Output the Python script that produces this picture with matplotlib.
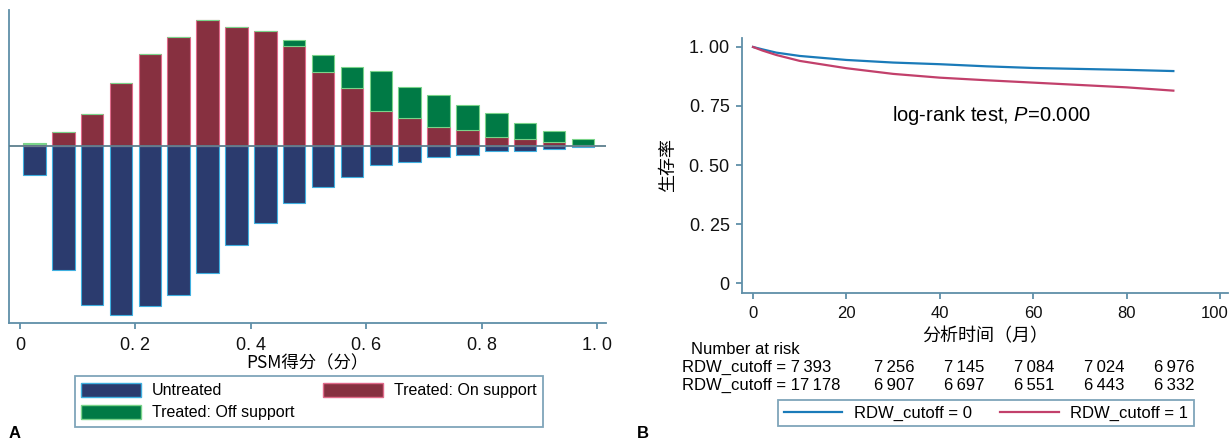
import matplotlib.pyplot as plt
import matplotlib.transforms as mtransforms
import numpy as np
from matplotlib.patches import Patch
from matplotlib.lines import Line2D

# ---- data ----
# propensity score bins (bin centres)
bin_centres = [0.025, 0.075, 0.125, 0.175, 0.225, 0.275, 0.325, 0.375, 0.425, 0.475,
               0.525, 0.575, 0.625, 0.675, 0.725, 0.775, 0.825, 0.875, 0.925, 0.975]
untreated = [0.29, 1.24, 1.59, 1.69, 1.60, 1.49, 1.27, 0.99, 0.77, 0.57,
             0.41, 0.31, 0.19, 0.16, 0.11, 0.09, 0.05, 0.05, 0.03, 0.01]
treated_on = [0.02, 0.14, 0.32, 0.63, 0.92, 1.09, 1.26, 1.19, 1.15, 1.00,
              0.74, 0.58, 0.35, 0.28, 0.19, 0.16, 0.09, 0.07, 0.04, 0.01]
treated_off = [0.01, 0, 0, 0, 0, 0, 0, 0, 0, 0.06,
               0.17, 0.21, 0.40, 0.31, 0.32, 0.25, 0.24, 0.16, 0.11, 0.06]

# survival curves
months = [0, 2, 5, 10, 20, 30, 40, 50, 60, 70, 80, 90]
surv_0 = [1.0, 0.990, 0.976, 0.962, 0.945, 0.934, 0.927, 0.918, 0.911, 0.907, 0.903, 0.898]
surv_1 = [1.0, 0.985, 0.966, 0.941, 0.910, 0.886, 0.870, 0.859, 0.849, 0.839, 0.829, 0.815]

# number at risk
risk_0 = [7393, 7256, 7145, 7084, 7024, 6976]
risk_1 = [17178, 6907, 6697, 6551, 6443, 6332]

psm_ticks = [0, 0.2, 0.4, 0.6, 0.8, 1.0]
psm_ticklabels = ['0', '0. 2', '0. 4', '0. 6', '0. 8', '1. 0']
surv_ticks = [0, 0.25, 0.5, 0.75, 1.0]
surv_ticklabels = ['0', '0. 25', '0. 50', '0. 75', '1. 00']
time_ticks = [0, 20, 40, 60, 80, 100]

# ---- style ----
plt.rcParams['font.family'] = ['Liberation Sans', 'DejaVu Sans']
plt.rcParams['mathtext.fontset'] = 'custom'
plt.rcParams['mathtext.rm'] = 'Liberation Sans'
plt.rcParams['mathtext.it'] = 'Liberation Sans:italic'

axis_col = '#5f8fa8'
navy = '#2b3b6e'
maroon = '#873040'
green = '#007a45'
blue_line = '#1a7bb9'
red_line = '#c2406b'
tick_font = ['Liberation Sans', 'DejaVu Sans']
cjk_font = ['Noto Sans CJK SC', 'DejaVu Sans']

W, H = 1232, 443
fig = plt.figure(figsize=(W / 100, H / 100), dpi=100)


def px_axes(x0, y0, x1, y1):
    # axes from pixel box (top-left origin)
    return fig.add_axes([x0 / W, 1 - y1 / H, (x1 - x0) / W, (y1 - y0) / H])


def style_axes(ax):
    for s in ['top', 'right']:
        ax.spines[s].set_visible(False)
    for s in ['left', 'bottom']:
        ax.spines[s].set_color(axis_col)
        ax.spines[s].set_linewidth(1.3)
    ax.tick_params(colors=axis_col, labelcolor='#111111', direction='out',
                   length=4, width=1.3)


# ---- panel A: propensity score distribution ----
axA = px_axes(9, 10, 606, 323)
style_axes(axA)
bw = 0.039
axA.bar(bin_centres, [-u for u in untreated], width=bw, color=navy,
        edgecolor='#3fb0e0', linewidth=0.8)
axA.bar(bin_centres, treated_on, width=bw, color=maroon,
        edgecolor='#e06a8a', linewidth=0.8)
axA.bar(bin_centres, treated_off, width=bw, bottom=treated_on, color=green,
        edgecolor='#7ad48a', linewidth=0.8)
axA.axhline(0, color='#5d7f8e', linewidth=1.3, zorder=3)
axA.set_xlim(-0.019, 1.015)
axA.set_ylim(-1.77, 1.36)
axA.set_yticks([])
axA.set_xticks(psm_ticks)
axA.set_xticklabels(psm_ticklabels, family=tick_font, fontsize=13)
axA.tick_params(axis='x', pad=6)
axA.set_xlabel('PSM得分（分）', family=cjk_font, fontsize=12.5, labelpad=0)

legA = fig.legend(handles=[Patch(facecolor=navy, edgecolor='#3fb0e0', label='Untreated'),
                           Patch(facecolor=green, edgecolor='#7ad48a', label='Treated: Off support'),
                           Patch(facecolor=maroon, edgecolor='#e06a8a', label='Treated: On support')],
                  ncol=2, loc='center', bbox_to_anchor=(309 / W, 1 - 401.5 / H),
                  fontsize=11.5, handlelength=3.75, handleheight=1.0, handletextpad=0.7,
                  columnspacing=1.8, labelspacing=0.4, fancybox=False,
                  edgecolor=axis_col, borderpad=0.4)
legA.get_frame().set_linewidth(1.3)
fig.text(15 / W, 1 - 433 / H, 'A', fontsize=12, fontweight='bold', ha='center', va='center')

# ---- panel B: survival curves ----
axB = px_axes(742, 38, 1228, 293)
style_axes(axB)
axB.plot(months, surv_0, color=blue_line, linewidth=1.6)
axB.plot(months, surv_1, color=red_line, linewidth=1.6)
axB.set_xlim(-2.36, 101.7)
axB.set_ylim(-0.042, 1.038)
axB.set_xticks(time_ticks)
axB.set_xticklabels([str(t) for t in time_ticks], family=tick_font, fontsize=12)
axB.set_yticks(surv_ticks)
axB.set_yticklabels(surv_ticklabels, family=tick_font, fontsize=13)
axB.tick_params(axis='both', pad=5)
# keep the "100" label inside the canvas
last = axB.get_xticklabels()[-1]
last.set_transform(last.get_transform() + mtransforms.ScaledTranslation(-5 / 100, 0, fig.dpi_scale_trans))
axB.set_xlabel('分析时间（月）', family=cjk_font, fontsize=13, labelpad=5)
axB.set_ylabel('生存率', family=cjk_font, fontsize=13, labelpad=9)
axB.text(0.309, 0.698, 'log-rank test, $P$=0.000', transform=axB.transAxes,
         fontsize=14.5, ha='left', va='center')

# number at risk table
def fmt(n):
    return f'{n:,}'.replace(',', '\u2009')


fig.text(691 / W, 1 - 350 / H, 'Number at risk', fontsize=12, va='center')
col_right = [914, 984, 1054, 1124, 1194]
for row_y, risk in [(367, risk_0), (385, risk_1)]:
    fig.text(682 / W, 1 - row_y / H, 'RDW_cutoff = ' + fmt(risk[0]), fontsize=12, va='center')
    for xr, n in zip(col_right, risk[1:]):
        fig.text(xr / W, 1 - row_y / H, fmt(n), fontsize=12, va='center', ha='right')

legB = fig.legend(handles=[Line2D([], [], color=blue_line, linewidth=1.6, label='RDW_cutoff = 0'),
                           Line2D([], [], color=red_line, linewidth=1.6, label='RDW_cutoff = 1')],
                  ncol=2, loc='center', bbox_to_anchor=(986 / W, 1 - 413 / H),
                  fontsize=12, handlelength=3.5, handletextpad=0.7, columnspacing=1.7,
                  fancybox=False, edgecolor=axis_col, borderpad=0.35)
legB.get_frame().set_linewidth(1.3)
fig.text(643 / W, 1 - 434 / H, 'B', fontsize=12, fontweight='bold', ha='center', va='center')

plt.savefig('out.png', dpi=100)
